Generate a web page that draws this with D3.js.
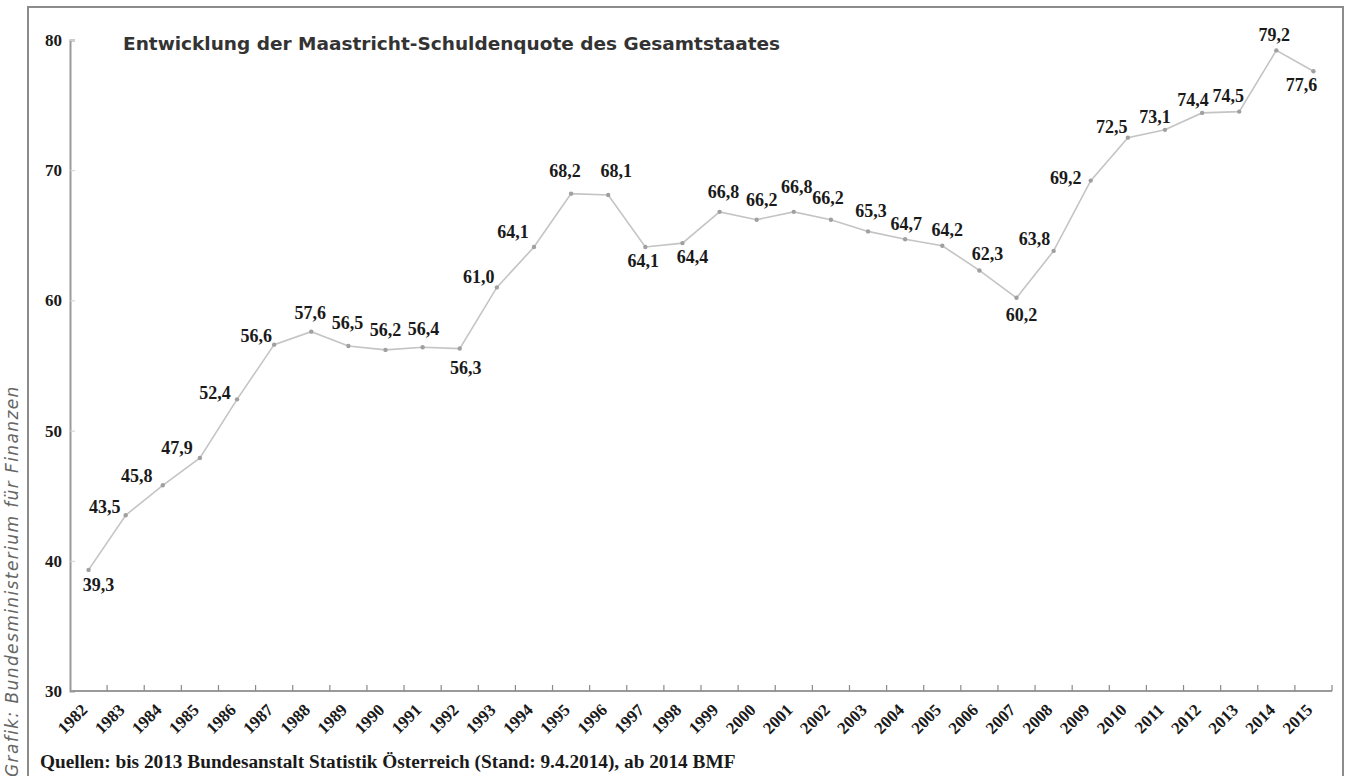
<!DOCTYPE html>
<html><head>
<meta charset="utf-8">
<title>Maastricht-Schuldenquote</title>
<script src="https://d3js.org/d3.v7.min.js"></script>
<style>
  body { margin: 0; background: #fff; }
  svg { display: block; }
  .val { font-family: "Liberation Serif", serif; font-weight: bold; font-size: 18px; fill: #1a1a1a; }
  .yr { font-family: "Liberation Serif", serif; font-weight: bold; font-size: 17px; fill: #1a1a1a; }
</style>
</head>
<body>
<div id="chart"></div>
<script>

// Schuldenquote in % des BIP
var years = [1982, 1983, 1984, 1985, 1986, 1987, 1988, 1989, 1990, 1991, 1992,
  1993, 1994, 1995, 1996, 1997, 1998, 1999, 2000, 2001, 2002, 2003, 2004,
  2005, 2006, 2007, 2008, 2009, 2010, 2011, 2012, 2013, 2014, 2015];
var values = [39.3, 43.5, 45.8, 47.9, 52.4, 56.6, 57.6, 56.5, 56.2, 56.4, 56.3,
  61.0, 64.1, 68.2, 68.1, 64.1, 64.4, 66.8, 66.2, 66.8, 66.2, 65.3, 64.7,
  64.2, 62.3, 60.2, 63.8, 69.2, 72.5, 73.1, 74.4, 74.5, 79.2, 77.6];
var yTicks = [30, 40, 50, 60, 70, 80];

// where each value label sits relative to its point (dx of label centre, dy of baseline)
var labelOffsets = [[10, 21], [-21, -2], [-26, -3], [-23, -4], [-22, 0], [-18, -3],
  [-1, -13], [-1, -17], [0, -14], [1, -12], [6, 25], [-18, -4], [-21, -9],
  [-6, -17], [8, -18], [-2, 20], [10, 20], [4, -14], [5, -14], [3, -19],
  [-3, -16], [3, -14], [1, -9], [5, -10], [8, -10], [5, 23], [-19, -6],
  [-25, 3], [-16, -5], [-10, -7], [-9, -7], [-11, -10], [-2, -9], [-12, 20]];

var title = "Entwicklung der Maastricht-Schuldenquote des Gesamtstaates";
var source = "Quellen: bis 2013 Bundesanstalt Statistik Österreich (Stand: 9.4.2014), ab 2014 BMF";
var credit = "Grafik: Bundesministerium für Finanzen";

var W = 1348, H = 776;
var plotLeft = 70, plotRight = 1332, plotTop = 40, plotBottom = 691;

var de = d3.formatLocale({decimal: ",", thousands: ".", grouping: [3], currency: ["", " €"]});
var fmt = de.format(".1f");

var svg = d3.select("#chart").append("svg")
    .attr("width", W)
    .attr("height", H);

// frame
svg.append("rect")
    .attr("x", 28).attr("y", 7)
    .attr("width", 1315).attr("height", 820)
    .attr("fill", "none")
    .attr("stroke", "#8c8c8c")
    .attr("stroke-width", 2);

var x = d3.scaleBand()
    .domain(years)
    .range([plotLeft, plotRight]);

var y = d3.scaleLinear()
    .domain([30, 80])
    .range([plotBottom, plotTop]);

var cx = function(d) { return x(d) + x.bandwidth() / 2; };

// y axis
var yAxis = svg.append("g")
    .attr("transform", "translate(" + plotLeft + ",0)")
    .call(d3.axisLeft(y).tickValues(yTicks).tickSize(-5).tickPadding(8));
yAxis.select(".domain").attr("stroke", "#9a9a9a").attr("stroke-width", 2);
yAxis.selectAll(".tick line").attr("stroke", "#cfcfcf");
yAxis.selectAll(".tick text")
    .style("font-family", "'Liberation Serif', serif")
    .style("font-weight", "bold")
    .style("font-size", "17px")
    .attr("fill", "#1a1a1a");

// x axis: ticks on the band edges
var xAxis = svg.append("g")
    .attr("transform", "translate(0," + plotBottom + ")");
xAxis.append("line")
    .attr("x1", plotLeft).attr("x2", plotRight)
    .attr("stroke", "#9a9a9a").attr("stroke-width", 2);
xAxis.selectAll(".xt")
  .data(years.slice(1).concat(["end"]))
  .join("line")
    .attr("class", "xt")
    .attr("x1", function(d) { return d === "end" ? plotRight : x(d); })
    .attr("x2", function(d) { return d === "end" ? plotRight : x(d); })
    .attr("y1", 0).attr("y2", -6)
    .attr("stroke", "#8a8a8a").attr("stroke-width", 1.2);

svg.selectAll(".yr")
  .data(years)
  .join("text")
    .attr("class", "yr")
    .attr("text-anchor", "end")
    .attr("transform", function(d) { return "translate(" + cx(d) + "," + (plotBottom + 20) + ") rotate(-45)"; })
    .text(function(d) { return d; });

// line and points
var pts = years.map(function(d, i) { return {year: d, v: values[i], off: labelOffsets[i]}; });

svg.append("path")
    .datum(pts)
    .attr("fill", "none")
    .attr("stroke", "#c4c4c4")
    .attr("stroke-width", 1.6)
    .attr("d", d3.line()
      .x(function(d) { return cx(d.year); })
      .y(function(d) { return y(d.v); }));

svg.selectAll(".pt")
  .data(pts)
  .join("circle")
    .attr("class", "pt")
    .attr("cx", function(d) { return cx(d.year); })
    .attr("cy", function(d) { return y(d.v); })
    .attr("r", 2.2)
    .attr("fill", "#a0a0a0");

svg.selectAll(".val")
  .data(pts)
  .join("text")
    .attr("class", "val")
    .attr("text-anchor", "middle")
    .attr("x", function(d) { return cx(d.year) + d.off[0]; })
    .attr("y", function(d) { return y(d.v) + d.off[1]; })
    .text(function(d) { return fmt(d.v); });

// title
svg.append("text")
    .attr("x", 123).attr("y", 50)
    .style("font-family", "'DejaVu Sans', sans-serif")
    .style("font-weight", "bold")
    .style("font-size", "18.5px")
    .attr("fill", "#333")
    .text(title);

// source
svg.append("text")
    .attr("x", 40).attr("y", 768)
    .style("font-family", "'Liberation Serif', serif")
    .style("font-weight", "bold")
    .style("font-size", "19.3px")
    .attr("fill", "#1a1a1a")
    .text(source);

// vertical credit
svg.append("text")
    .attr("transform", "translate(18,777) rotate(-90)")
    .style("font-family", "'DejaVu Sans', sans-serif")
    .style("font-style", "italic")
    .style("font-size", "17px")
    .style("letter-spacing", "1.4px")
    .attr("fill", "#666")
    .text(credit);

</script>
</body></html>
